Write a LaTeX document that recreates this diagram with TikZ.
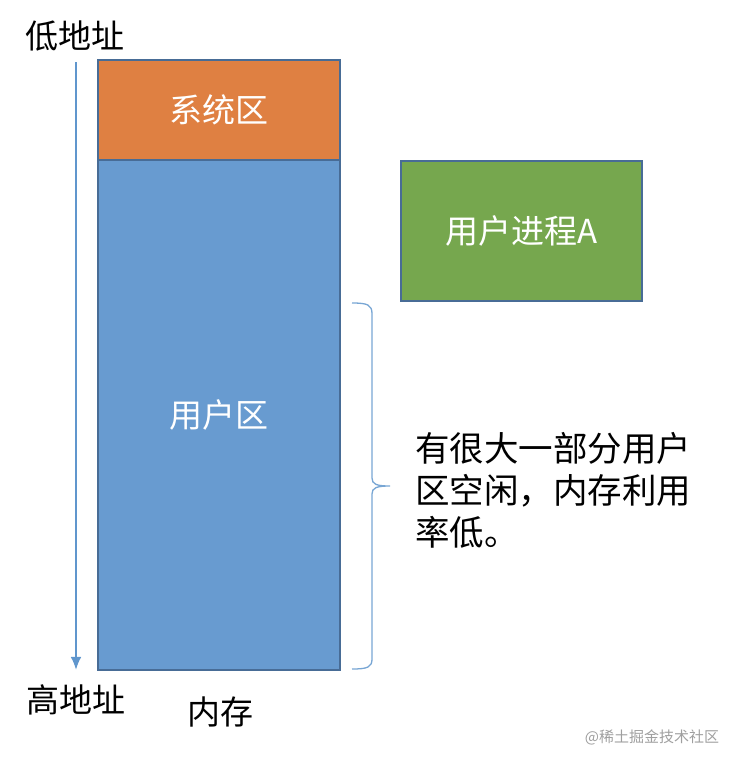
\documentclass[tikz,border=0pt]{standalone}
\usepackage{fontspec}
\setmainfont{Noto Sans CJK SC}
\usepackage{tikz}
\usetikzlibrary{arrows.meta}
\definecolor{sysorange}{RGB}{223,128,66}
\definecolor{userblue}{RGB}{104,155,208}
\definecolor{procgreen}{RGB}{118,167,78}
\definecolor{edgeblue}{RGB}{72,108,150}
\definecolor{arrowblue}{RGB}{96,150,205}
\tikzset{%
  >={Latex[width=3.8mm,length=4.6mm]},
  % Specifications for style of nodes:
            base/.style = {rectangle, draw=edgeblue, line width=1.5pt,
                           inner sep=0pt, text centered, text=white,
                           font=\fontsize{33}{40}\selectfont},
         sysarea/.style = {base, fill=sysorange},
        userarea/.style = {base, fill=userblue},
        procarea/.style = {base, fill=procgreen},
           label/.style = {inner sep=0pt, font=\fontsize{33}{40}\selectfont},
            note/.style = {label, align=left, font=\fontsize{34.5}{42}\selectfont}
}
\begin{document}
\begin{tikzpicture}[x=1pt, y=-1pt]
  \useasboundingbox (0,0) rectangle (744,766);
  % Specification of nodes (position, etc.)
  \node (sys)   [sysarea, minimum width=242pt, minimum height=100pt] at (219,110) {系统区};
  \node (user)  [userarea, minimum width=242pt, minimum height=510pt] at (219,415) {用户区};
  \node (proc)  [procarea, minimum width=241pt, minimum height=140pt] at (521.5,231) {用户进程A};

  \node (low)   [label] at (75,36)  {低地址};
  \node (high)  [label] at (76,700) {高地址};
  \node (mem)   [label] at (220,712) {内存};

  \node (idle)  [note, anchor=west] at (415,490)
                {有很大一部分用户\\区空闲，内存利用\\率低。};

  \node (mark)  [inner sep=0pt, text=gray!75, font=\fontsize{15}{18}\selectfont]
                at (652,737) {@稀土掘金技术社区};

  \coordinate (arrtop) at (76,62);
  \coordinate (arrbot) at (76,670);
  \coordinate (bratop) at (352,303);
  \coordinate (bratip) at (390,486);
  \coordinate (brabot) at (352,669);

  \draw[->, arrowblue, line width=2pt] (arrtop) -- (arrbot);
  \draw[arrowblue!85, line width=1.3pt]
    (bratop) .. controls (368,303) and (372,305) .. (372,314) -- (372,478)
    .. controls (372,484) and (376,486) .. (bratip)
    .. controls (376,486) and (372,488) .. (372,494) -- (372,659)
    .. controls (372,667) and (368,669) .. (brabot);
\end{tikzpicture}
\end{document}
